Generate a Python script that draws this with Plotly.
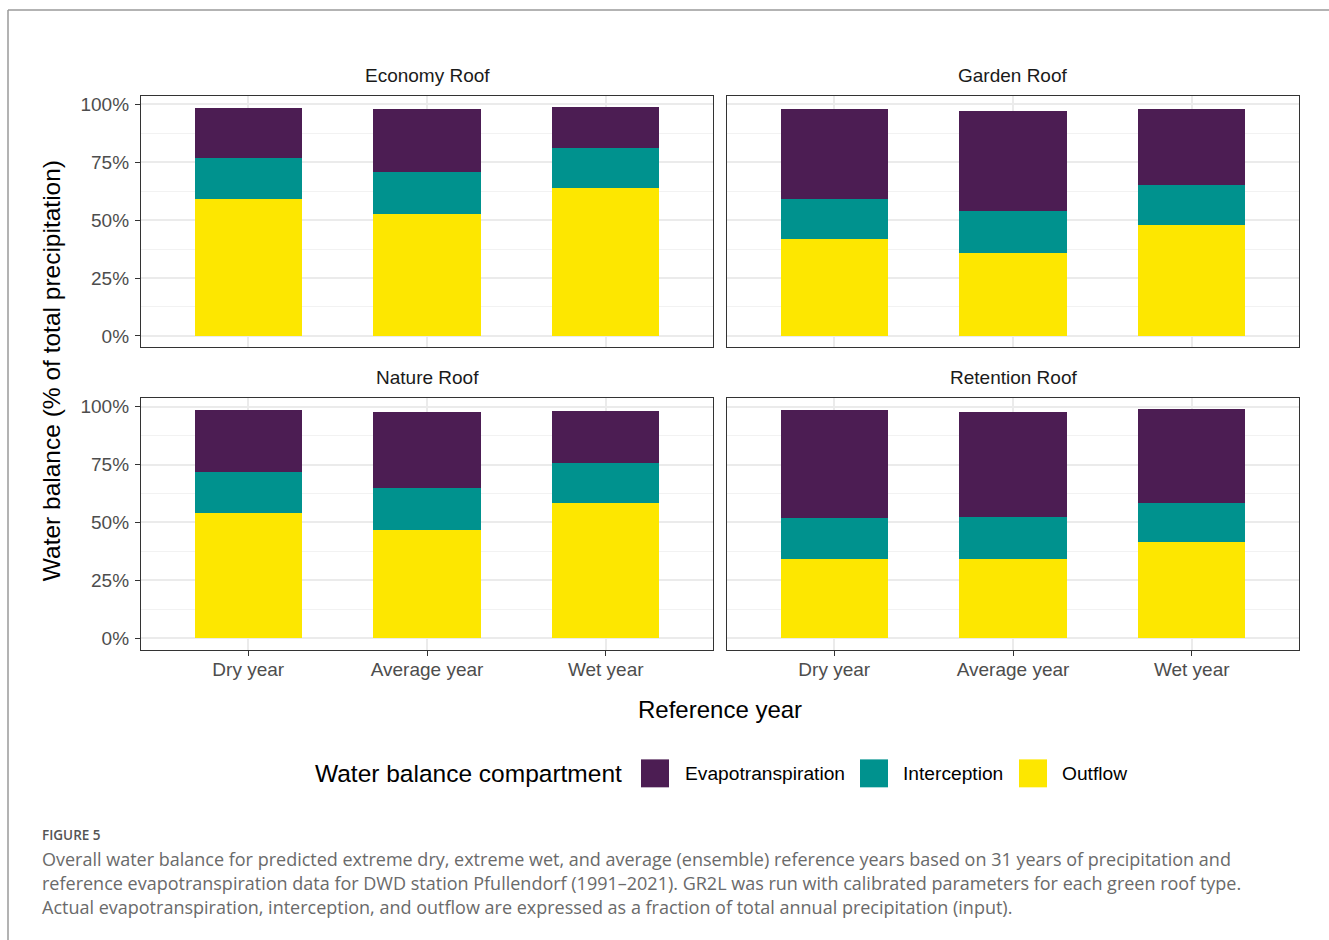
import plotly.graph_objects as go

W, H = 1329, 940

# ---- data (percent of total annual precipitation) ----
years = ["Dry year", "Average year", "Wet year"]
roofs = ["Economy Roof", "Garden Roof", "Nature Roof", "Retention Roof"]
compartments = ["Evapotranspiration", "Interception", "Outflow"]

economy_outflow = [59.4, 52.8, 64.0]
economy_interception = [17.7, 18.1, 17.3]
economy_evapotranspiration = [21.5, 27.2, 17.6]

garden_outflow = [41.8, 36.0, 48.2]
garden_interception = [17.5, 18.1, 17.1]
garden_evapotranspiration = [38.9, 43.1, 32.9]

nature_outflow = [54.2, 46.9, 58.5]
nature_interception = [17.7, 18.1, 17.3]
nature_evapotranspiration = [26.7, 32.7, 22.3]

retention_outflow = [34.0, 34.0, 41.3]
retention_interception = [17.7, 18.1, 16.9]
retention_evapotranspiration = [46.9, 45.6, 40.8]

y_ticks = [0, 25, 50, 75, 100]
y_tick_labels = ["0%", "25%", "50%", "75%", "100%"]

colors = {
    "Evapotranspiration": "#4C1D53",
    "Interception": "#00928E",
    "Outflow": "#FDE700",
}

table = {
    "Economy Roof": {"Outflow": economy_outflow, "Interception": economy_interception,
                     "Evapotranspiration": economy_evapotranspiration},
    "Garden Roof": {"Outflow": garden_outflow, "Interception": garden_interception,
                    "Evapotranspiration": garden_evapotranspiration},
    "Nature Roof": {"Outflow": nature_outflow, "Interception": nature_interception,
                    "Evapotranspiration": nature_evapotranspiration},
    "Retention Roof": {"Outflow": retention_outflow, "Interception": retention_interception,
                       "Evapotranspiration": retention_evapotranspiration},
}


def px(x):
    return x / W


def py(y):
    return 1 - y / H


# panel boxes in pixels: (left, right, top, bottom)
panels = {
    "Economy Roof": (141, 713, 94, 346),
    "Garden Roof": (727, 1299, 94, 346),
    "Nature Roof": (141, 713, 397, 649),
    "Retention Roof": (727, 1299, 397, 649),
}

FONT = "Liberation Sans, Arial, Helvetica, sans-serif"
CAP_FONT = "Open Sans, Noto Sans, sans-serif"

fig = go.Figure()

# stacking order: Outflow at the bottom, Evapotranspiration on top
for i, roof in enumerate(roofs, start=1):
    suffix = "" if i == 1 else str(i)
    for comp in ["Outflow", "Interception", "Evapotranspiration"]:
        fig.add_trace(go.Bar(
            x=years, y=table[roof][comp], name=comp,
            marker=dict(color=colors[comp], line=dict(width=0)),
            width=0.6, showlegend=False,
            xaxis="x" + suffix, yaxis="y" + suffix,
            hovertemplate=roof + "<br>%{x}<br>" + comp + ": %{y:.1f}%<extra></extra>",
        ))

layout = dict(
    width=W, height=H, autosize=False,
    margin=dict(l=0, r=0, t=0, b=0),
    paper_bgcolor="white", plot_bgcolor="white",
    barmode="stack", bargap=0,
    font=dict(family=FONT, color="#4D4D4D"),
)

for i, roof in enumerate(roofs, start=1):
    suffix = "" if i == 1 else str(i)
    l, r, t, b = panels[roof]
    bottom_row = i in (3, 4)
    left_col = i in (1, 3)
    layout["xaxis" + suffix] = dict(
        domain=[px(l), px(r)], anchor="y" + suffix,
        type="category", categoryorder="array", categoryarray=years,
        range=[-0.6, 2.6],
        showgrid=True, gridcolor="#EBEBEB", gridwidth=1.6,
        showline=True, mirror=True, linecolor="#333333", linewidth=1.3,
        ticks="outside" if bottom_row else "", ticklen=5, tickwidth=1.3, tickcolor="#333333",
        showticklabels=bottom_row, ticklabelstandoff=-3,
        tickfont=dict(size=19, color="#4D4D4D", family=FONT),
        zeroline=False, fixedrange=True,
    )
    layout["yaxis" + suffix] = dict(
        domain=[py(b), py(t)], anchor="x" + suffix,
        range=[-4.9, 103.7],
        tickmode="array", tickvals=y_ticks, ticktext=y_tick_labels,
        showgrid=True, gridcolor="#EBEBEB", gridwidth=1.6,
        minor=dict(tickmode="array", tickvals=[12.5, 37.5, 62.5, 87.5],
                   showgrid=True, gridcolor="#F2F2F2", gridwidth=0.8, ticks=""),
        showline=True, mirror=True, linecolor="#333333", linewidth=1.3,
        ticks="outside" if left_col else "", ticklen=5, tickwidth=1.3, tickcolor="#333333",
        showticklabels=left_col, ticklabelstandoff=2,
        tickfont=dict(size=19, color="#4D4D4D", family=FONT),
        zeroline=False, fixedrange=True,
    )

annotations = []
# facet titles
for roof in roofs:
    l, r, t, b = panels[roof]
    annotations.append(dict(
        x=px((l + r) / 2), y=py(t - 20.5), xref="paper", yref="paper",
        text=roof, showarrow=False, xanchor="center", yanchor="middle",
        font=dict(size=19, color="#1A1A1A", family=FONT),
    ))

# shared axis titles
annotations.append(dict(
    x=px(720), y=py(709), xref="paper", yref="paper", text="Reference year",
    showarrow=False, xanchor="center", yanchor="middle",
    font=dict(size=24, color="#000000", family=FONT),
))
annotations.append(dict(
    x=px(51), y=py(370), xref="paper", yref="paper",
    text="Water balance (% of total precipitation)", textangle=-90,
    showarrow=False, xanchor="center", yanchor="middle",
    font=dict(size=24.5, color="#000000", family=FONT),
))

# legend
annotations.append(dict(
    x=px(313), y=py(773.5), xref="paper", yref="paper", text="Water balance compartment",
    showarrow=False, xanchor="left", yanchor="middle",
    font=dict(size=24.5, color="#000000", family=FONT),
))
shapes = []
legend_keys = [("Evapotranspiration", 641, 683), ("Interception", 860, 901), ("Outflow", 1019, 1060)]
for comp, kx, tx in legend_keys:
    shapes.append(dict(
        type="rect", xref="paper", yref="paper",
        x0=px(kx), x1=px(kx + 28), y0=py(787), y1=py(759),
        fillcolor=colors[comp], line=dict(width=0),
    ))
    annotations.append(dict(
        x=px(tx), y=py(773), xref="paper", yref="paper", text=comp,
        showarrow=False, xanchor="left", yanchor="middle",
        font=dict(size=19.2, color="#000000", family=FONT),
    ))

# caption
annotations.append(dict(
    x=px(40), y=py(834.5), xref="paper", yref="paper", text="FIGURE 5",
    showarrow=False, xanchor="left", yanchor="middle",
    font=dict(size=13.5, color="#555555", family="Open Sans SemiBold, Open Sans, sans-serif"),
))
caption_lines = [
    "Overall water balance for predicted extreme dry, extreme wet, and average (ensemble) reference years based on 31 years of precipitation and",
    "reference evapotranspiration data for DWD station Pfullendorf (1991\u20132021). GR2L was run with calibrated parameters for each green roof type.",
    "Actual evapotranspiration, interception, and outflow are expressed as a fraction of total annual precipitation (input).",
]
for k, line in enumerate(caption_lines):
    annotations.append(dict(
        x=px(40), y=py(858.5 + 24 * k), xref="paper", yref="paper", text=line,
        showarrow=False, xanchor="left", yanchor="middle",
        font=dict(size=18, color="#6A6A6A", family=CAP_FONT),
    ))

# outer frame (top and left edges)
shapes.append(dict(type="line", xref="paper", yref="paper",
                   x0=px(8), x1=1.0, y0=py(8), y1=py(8),
                   line=dict(color="#9A9A9A", width=1.5)))
shapes.append(dict(type="line", xref="paper", yref="paper",
                   x0=px(8), x1=px(8), y0=py(8), y1=0.0,
                   line=dict(color="#9A9A9A", width=1.5)))

layout["annotations"] = annotations
layout["shapes"] = shapes
fig.update_layout(**layout)

fig.write_html("out.html")
